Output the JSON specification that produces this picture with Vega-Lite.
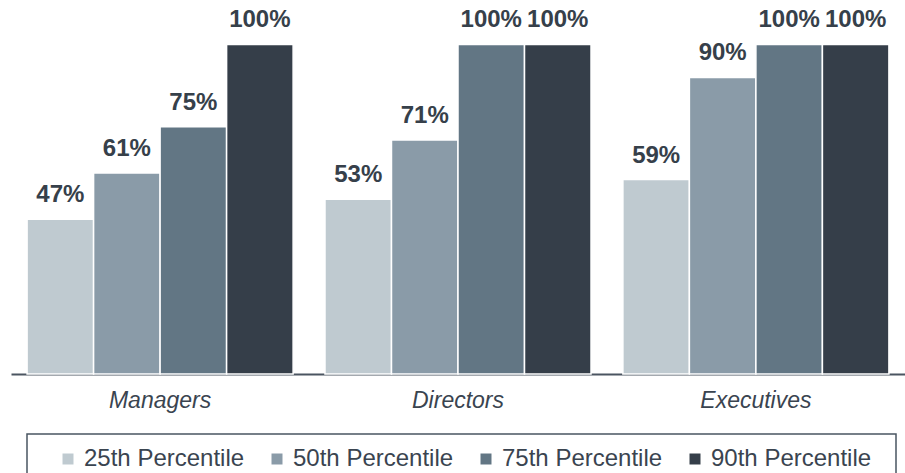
{
  "$schema": "https://vega.github.io/schema/vega-lite/v6.json",
  "width": 894,
  "height": 374,
  "padding": {"left": 11, "top": 0, "right": 0, "bottom": 0},
  "autosize": {"type": "pad"},
  "config": {
    "view": {"stroke": null},
    "font": "Liberation Sans",
    "legend": {"strokeWidth": 1.5}
  },
  "data": {
    "values": [
      {"role": "Managers", "pct": "25th Percentile", "value": 0.47},
      {"role": "Managers", "pct": "50th Percentile", "value": 0.61},
      {"role": "Managers", "pct": "75th Percentile", "value": 0.75},
      {"role": "Managers", "pct": "90th Percentile", "value": 1.0},
      {"role": "Directors", "pct": "25th Percentile", "value": 0.53},
      {"role": "Directors", "pct": "50th Percentile", "value": 0.71},
      {"role": "Directors", "pct": "75th Percentile", "value": 1.0},
      {"role": "Directors", "pct": "90th Percentile", "value": 1.0},
      {"role": "Executives", "pct": "25th Percentile", "value": 0.59},
      {"role": "Executives", "pct": "50th Percentile", "value": 0.90},
      {"role": "Executives", "pct": "75th Percentile", "value": 1.0},
      {"role": "Executives", "pct": "90th Percentile", "value": 1.0}
    ]
  },
  "encoding": {
    "x": {
      "field": "role", "type": "nominal", "sort": ["Managers", "Directors", "Executives"],
      "scale": {"paddingInner": 0.107, "paddingOuter": 0.054},
      "axis": {
        "title": null, "labelAngle": 0, "ticks": false, "grid": false,
        "domainColor": "#4b5561", "domainWidth": 2,
        "labelFont": "Liberation Sans", "labelFontSize": 23, "labelFontStyle": "italic",
        "labelColor": "#3a4450", "labelPadding": 15
      }
    },
    "xOffset": {
      "field": "pct", "type": "nominal",
      "scale": {"paddingInner": 0, "paddingOuter": 0}
    },
    "y": {
      "field": "value", "type": "quantitative",
      "scale": {"domain": [0, 1.135]},
      "axis": null
    }
  },
  "layer": [
    {
      "mark": {"type": "bar", "stroke": "white", "strokeWidth": 1.5},
      "encoding": {
        "color": {
          "field": "pct", "type": "nominal",
          "scale": {
            "domain": ["25th Percentile", "50th Percentile", "75th Percentile", "90th Percentile"],
            "range": ["#BFCAD0", "#8A9BA8", "#627684", "#353E49"]
          },
          "legend": {
            "title": "\u00a0\u00a0", "titleOrient": "right", "titlePadding": 12, "titleFontSize": 12,
            "orient": "none", "direction": "horizontal",
            "legendX": 16, "legendY": 434, "padding": 13,
            "strokeColor": "#4a5562",
            "symbolType": "square", "symbolSize": 121, "symbolStrokeWidth": 0,
            "symbolOffset": 16,
            "labelFont": "Liberation Sans", "labelFontSize": 24, "labelColor": "#3a4450",
            "labelOffset": 4, "columnPadding": 4, "labelLimit": 300
          }
        }
      }
    },
    {
      "mark": {"type": "text", "dy": -17, "baseline": "alphabetic", "fontSize": 24, "fontWeight": "bold", "color": "#36404a", "font": "Liberation Sans"},
      "encoding": {
        "text": {"field": "value", "type": "quantitative", "format": ".0%"}
      }
    }
  ]
}
